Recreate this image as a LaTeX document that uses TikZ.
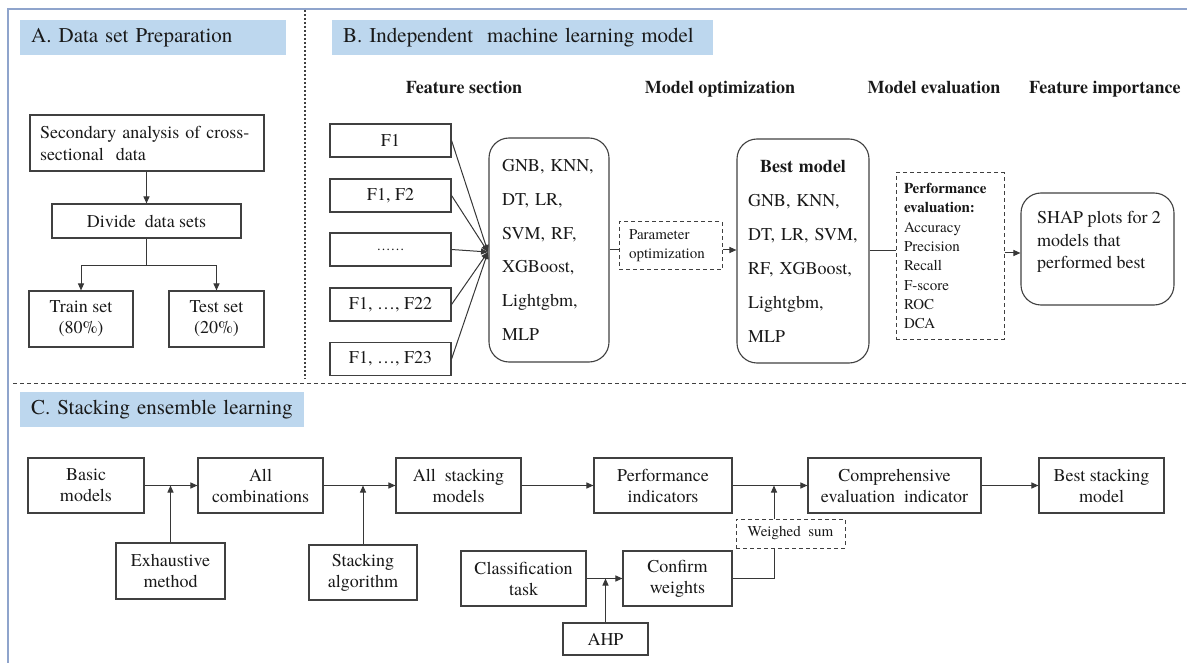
\documentclass[tikz,border=0pt]{standalone}
\usepackage{fontspec}
\setmainfont{texgyretermes-regular.otf}[BoldFont=texgyretermes-bold.otf, ItalicFont=texgyretermes-italic.otf, BoldItalicFont=texgyretermes-bolditalic.otf]
\usetikzlibrary{arrows.meta}
\definecolor{hdrblue}{RGB}{189,215,238}
\definecolor{framec}{RGB}{143,164,204}
\definecolor{boxgray}{RGB}{64,64,64}
\definecolor{linegray}{RGB}{55,55,55}
\definecolor{txt}{RGB}{25,25,25}
\tikzset{
  sz/.style 2 args={minimum width=#1pt, minimum height=#2pt},
  bx/.style={draw=boxgray, line width=1.1pt, inner sep=0pt, align=center, text=txt,
             font=\fontsize{18}{21}\selectfont},
  rbx/.style={bx, rounded corners=20pt},
  dbx/.style={draw=boxgray, line width=1pt, dash pattern=on 4pt off 3pt, inner sep=0pt,
              text=txt, align=left, font=\fontsize{15}{19.3}\selectfont},
  hdr/.style={fill=hdrblue, anchor=west, inner xsep=11pt, inner ysep=0pt, minimum height=35pt,
              align=left, text=txt, font=\fontsize{21}{25}\selectfont},
  sub/.style={text=txt, anchor=base, inner sep=0pt, font=\bfseries\fontsize{18}{21}\selectfont},
  arr/.style={-{Triangle[length=7pt,width=6pt]}, line width=1pt, draw=linegray},
  ln/.style={line width=1pt, draw=linegray},
}
\begin{document}
\begin{tikzpicture}[x=1pt,y=-1pt]
\useasboundingbox (0,0) rectangle (1187,663);
\clip (0,0) rectangle (1187,663);
% frame and separators
\draw[framec, line width=2pt] (8,9) rectangle (1260,720);
\draw[boxgray, line width=1.2pt, dash pattern=on 2pt off 2pt] (305,10) -- (305,379);
\draw[boxgray, line width=1pt, dash pattern=on 4pt off 3pt] (13,383) -- (1187,383);

% headers
\node[hdr, text width=244pt] (ha) at (20,37.5) {\mbox{A. Data set Preparation}};
\node[hdr, text width=359pt] (hb) at (332,37.5) {\mbox{B. Independent\ \ machine learning model}};
\node[hdr, text width=262pt] (hc) at (20,409.5) {\mbox{C. Stacking\ ensemble\ learning}};

% ---------------- Panel A
\node[bx, sz={234}{56}, text width=214pt, align=left, font=\fontsize{18}{22}\selectfont]
  (sec) at (147,143) {Secondary analysis of cross-\\sectional\ \ data};
\node[bx, sz={189}{34}] (div) at (146.5,221) {Divide\ \ data sets};
\node[bx, sz={104}{56}] (train) at (81,319) {Train set\\(80\%)};
\node[bx, sz={95}{56}] (test) at (216.5,319) {Test set\\(20\%)};
\coordinate (split) at (146.5,266);
\draw[arr] (sec.south -| div.north) -- (div.north);
\draw[ln] (div.south) -- (split);
\draw[arr] (split) -| (train.north);
\draw[arr] (split) -| (test.north);

% ---------------- Panel B
\node[sub] (fsec) at (464,94) {Feature section};
\node[sub] (mopt) at (720,94) {Model optimization};
\node[sub] (meval) at (934,94) {Model evaluation};
\node[sub, anchor=base west] (fimp) at (1029,94) {Feature importance};

\node[bx, sz={121}{33}] (f1) at (390.5,140.5) {F1};
\node[bx, sz={121}{33}] (f2) at (390.5,195.5) {F1, F2};
\node[bx, sz={121}{33}] (f3) at (390.5,249.5) {\raisebox{-1pt}{\fontsize{14}{14}\selectfont ……}};
\node[bx, sz={121}{33}] (f4) at (390.5,304.5) {F1, …, F22};
\node[bx, sz={121}{33}] (f5) at (390.5,359) {F1, …, F23};
\coordinate (conv) at (488,252);
\foreach \f in {f1,f2,f3,f4,f5} {\draw[arr] (\f.east) -- (conv);}

\node[rbx, sz={120}{224}, text width=94pt, align=left, font=\fontsize{18}{33.8}\selectfont]
  (mods) at (549,250) {GNB, KNN,\\DT, LR,\\SVM, RF,\\XGBoost,\\Lightgbm,\\MLP};
\node[dbx, sz={103}{48}, text width=83pt] (param) at (670.5,246) {Parameter\\optimization};
\node[rbx, sz={132}{224}, text width=110pt, align=left, font=\fontsize{18}{34}\selectfont]
  (best) at (803,251) {\makebox[110pt]{\bfseries Best model}\\GNB, KNN,\\DT, LR, SVM,\\RF, XGBoost,\\Lightgbm,\\MLP};
\node[dbx, sz={108}{166}, text width=92pt] (perf) at (950,256)
  {\textbf{Performance}\\\textbf{evaluation:}\\Accuracy\\Precision\\Recall\\F-score\\ROC\\DCA};
\node[rbx, sz={153}{112}] (shap) at (1097.5,249) {};
\node[anchor=west, inner sep=0pt, align=left, text=txt, font=\fontsize{18}{22.5}\selectfont]
  (shapt) at (1037,242) {SHAP plots for 2\\models that\\performed best};

\draw[ln] (mods.east) -- (param.west |- mods.east);
\draw[arr] (param.east |- mods.east) -- (best.west |- mods.east);
\draw[ln] (best.east) -- (perf.west |- best.east);
\draw[arr] (perf.east |- 0,253) -- (shap.west |- 0,253);

% ---------------- Panel C
\node[bx, sz={116}{55}] (basic) at (86,485.5) {Basic\\models};
\node[bx, sz={125}{55}] (comb) at (260.5,485.5) {All\\combinations};
\node[bx, sz={125}{55}] (alls) at (458.5,485.5) {All\ \ stacking\\models};
\node[bx, sz={138}{55}] (pind) at (663,485.5) {Performance\\indicators};
\node[bx, sz={173}{55}] (compr) at (894.5,485.5) {Comprehensive\\evaluation\ \ indicator};
\node[bx, sz={125}{55}] (bests) at (1101.5,485.5) {Best stacking\\model};
\node[bx, sz={109}{56}] (exh) at (170.5,571) {Exhaustive\\method};
\node[bx, sz={108}{55}] (stalg) at (363,572.5) {Stacking\\algorithm};
\node[bx, sz={125}{55}] (cls) at (523.5,578.5) {Classification\\task};
\node[bx, sz={109}{55}] (conf) at (677.5,578.5) {Confirm\\weights};
\node[bx, sz={85}{32}] (ahp) at (605.5,639) {AHP};
\node[dbx, sz={109}{29}, align=center] (wsum) at (790.5,533.5) {Weighed\ \ sum};
\coordinate (wt) at ([xshift=-16.5pt]wsum.north);
\coordinate (wb) at ([xshift=-16.5pt]wsum.south);

\draw[arr] (basic) -- (comb);
\draw[arr] (exh.north) -- (exh.north |- basic.east);
\draw[arr] (comb) -- (alls);
\draw[arr] (stalg.north) -- (stalg.north |- comb.east);
\draw[arr] (alls) -- (pind);
\draw[arr] (pind) -- (compr);
\draw[arr] (wt) -- (wt |- pind.east);
\draw[ln] (conf.east) -| (wb);
\draw[arr] (compr) -- (bests);
\draw[arr] (cls) -- (conf);
\draw[arr] (ahp.north) -- (ahp.north |- cls.east);
\end{tikzpicture}
\end{document}
